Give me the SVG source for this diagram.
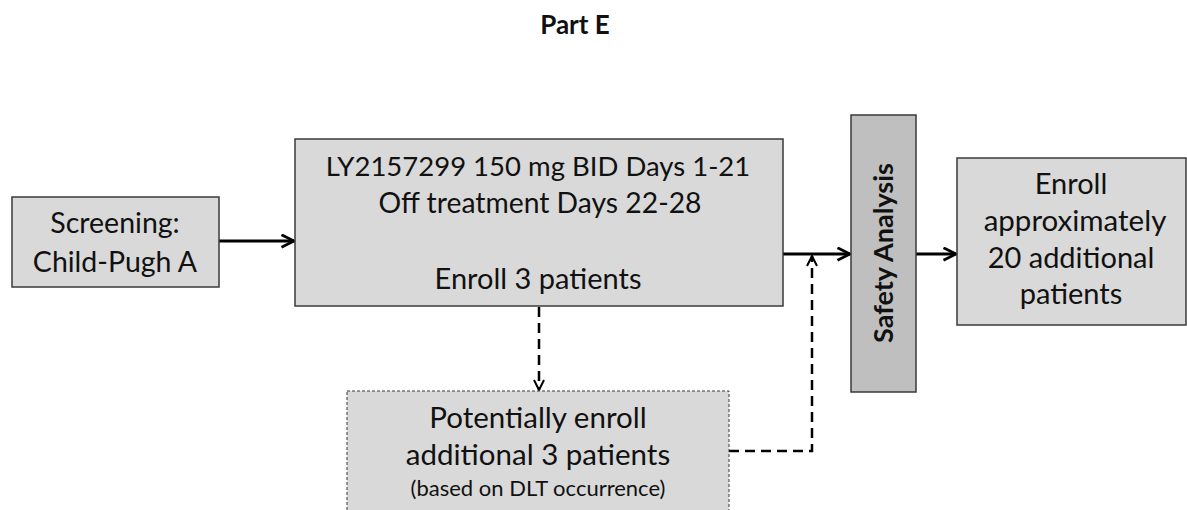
<svg xmlns="http://www.w3.org/2000/svg" width="1187" height="510" viewBox="0 0 1187 510">
<defs>
<marker id="arr" viewBox="0 0 12 12" refX="11" refY="6" markerWidth="15" markerHeight="15" markerUnits="userSpaceOnUse" orient="auto">
<path d="M1,1 L11,6 L1,11" fill="none" stroke="#000" stroke-width="2.2"/>
</marker>
<marker id="arrs" viewBox="0 0 12 12" refX="11" refY="6" markerWidth="12" markerHeight="12" markerUnits="userSpaceOnUse" orient="auto">
<path d="M1,1 L11,6 L1,11" fill="none" stroke="#000" stroke-width="2"/>
</marker>
</defs>
<style>
.box{fill:#d9d9d9;stroke:#3a3a3a;stroke-width:1.5}
.t{font-family:Lato,"Liberation Sans",sans-serif;font-size:29px;fill:#111;text-anchor:middle}
.solid{stroke:#000;stroke-width:3;fill:none}
.dash{stroke:#000;stroke-width:2.5;fill:none;stroke-dasharray:10 6}
</style>
<rect width="1187" height="510" fill="#fff"/>
<text x="575" y="34" class="t" style="font-weight:bold;font-size:26px">Part E</text>
<g id="connectors">
<line x1="219" y1="241" x2="294" y2="241" class="solid" marker-end="url(#arr)"/>
<line x1="783" y1="254" x2="850" y2="254" class="solid" marker-end="url(#arr)"/>
<line x1="916" y1="254" x2="956" y2="254" class="solid" marker-end="url(#arr)"/>
<line x1="539" y1="307" x2="539" y2="390" class="dash" marker-end="url(#arrs)"/>
<polyline points="729,451 812,451 812,256" class="dash" marker-end="url(#arrs)"/>
</g>
<g id="screening">
<rect x="12" y="197" width="207" height="90" class="box"/>
<text x="115" y="233" class="t" style="font-size:28.5px">Screening:</text>
<text x="115" y="272" class="t" style="font-size:28.5px">Child-Pugh A</text>
</g>
<g id="treatment">
<rect x="295" y="139" width="488" height="167" class="box"/>
<text x="538" y="176" class="t" style="font-size:27.5px">LY2157299 150 mg BID Days 1-21</text>
<text x="540" y="213" class="t" style="font-size:28.3px">Off treatment Days 22-28</text>
<text x="538" y="289" class="t">Enroll 3 patients</text>
</g>
<g id="safety">
<rect x="851" y="115" width="65" height="277" fill="#bfbfbf" stroke="#3a3a3a" stroke-width="1.5"/>
<text x="0" y="0" class="t" transform="translate(893,253) rotate(-90)" style="font-weight:bold;font-size:27px">Safety Analysis</text>
</g>
<g id="enroll">
<rect x="957" y="158" width="229" height="167" class="box"/>
<text x="1071" y="194" class="t">Enroll</text>
<text x="1075" y="231" class="t" style="font-size:29.5px">approximately</text>
<text x="1071" y="268" class="t">20 additional</text>
<text x="1071" y="304" class="t">patients</text>
</g>
<g id="additional">
<rect x="347" y="391" width="382" height="130" fill="#d9d9d9" stroke="#3a3a3a" stroke-width="1" stroke-dasharray="3 2"/>
<text x="538" y="428" class="t" style="font-size:29.5px">Potentially enroll</text>
<text x="538" y="465" class="t" style="font-size:29.5px">additional 3 patients</text>
<text x="538" y="496" class="t" style="font-size:22px">(based on DLT occurrence)</text>
</g>
</svg>
